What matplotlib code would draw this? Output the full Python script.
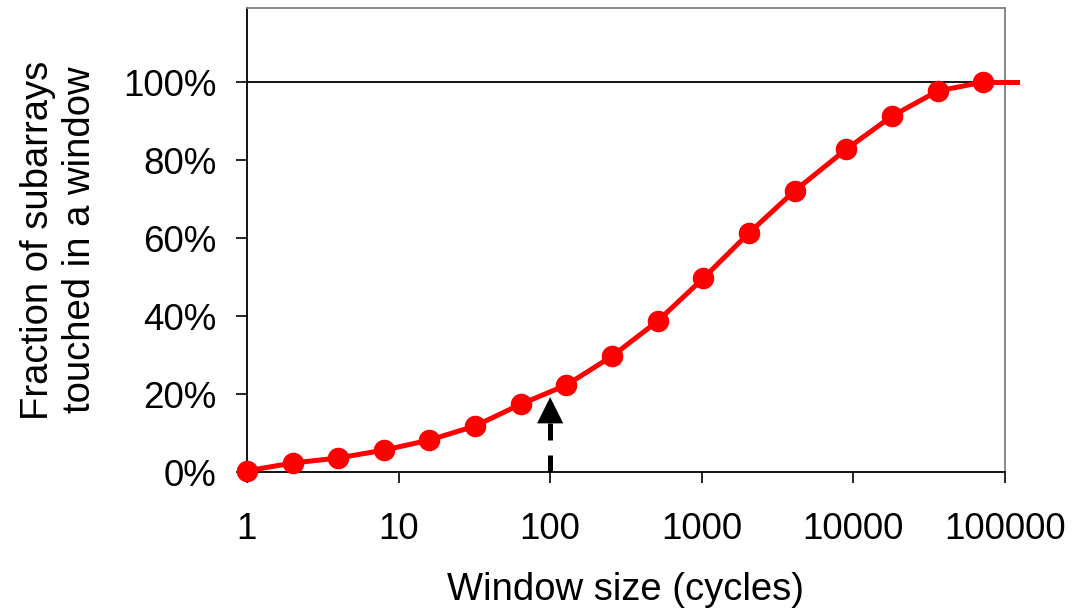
import matplotlib
matplotlib.use("Agg")
import matplotlib.pyplot as plt
from matplotlib.ticker import FixedLocator, NullLocator, FuncFormatter

plt.rcParams['font.family'] = ['Liberation Sans', 'DejaVu Sans']

# data
window_sizes = [1, 2, 4, 8, 16, 32, 64, 128, 256, 512, 1024, 2048, 4096,
                9000, 18000, 36000, 72000]
fraction_touched = [0.003, 0.023, 0.036, 0.056, 0.082, 0.118, 0.174, 0.223,
                    0.297, 0.387, 0.497, 0.613, 0.721, 0.828, 0.913, 0.977, 1.0]
tail_x = [72000, 120000]   # line runs a little past the right edge
tail_y = [1.0, 1.0]
x_ticks = [1, 10, 100, 1000, 10000, 100000]
y_ticks = [0, 0.2, 0.4, 0.6, 0.8, 1.0]
arrow_x = 100
arrow_base, arrow_tip = 0.125, 0.192

fig = plt.figure(figsize=(10.83, 6.13), dpi=100)
ax = fig.add_axes([0.228, 0.23, 0.700, 0.757])

ax.set_xscale('log')
ax.set_xlim(1, 100000)
ax.set_ylim(0, 1.19)

ax.axhline(1.0, color='black', linewidth=1.3, zorder=1)

ax.plot(window_sizes, fraction_touched, color='#ff0000', linewidth=3.6,
        marker='o', markersize=14.5, clip_on=False, zorder=3)
ax.plot(tail_x, tail_y, color='#ff0000', linewidth=3.6, clip_on=False, zorder=3)

# dashed arrow at window = 100
ax.plot([arrow_x, arrow_x], [arrow_base, 0], color='black',
        linewidth=3.6, linestyle=(0, (3.4, 3.0)), solid_capstyle='butt',
        dash_capstyle='butt', zorder=2)
ax.annotate('', xy=(arrow_x, arrow_tip), xytext=(arrow_x, arrow_base),
            arrowprops=dict(arrowstyle='-|>,head_length=1.0,head_width=0.5',
                            mutation_scale=18.7, color='black', linewidth=0.1,
                            shrinkA=0, shrinkB=0),
            zorder=2)

ax.xaxis.set_major_locator(FixedLocator(x_ticks))
ax.xaxis.set_minor_locator(NullLocator())
ax.xaxis.set_major_formatter(FuncFormatter(lambda v, p: f'{int(round(v))}'))
ax.yaxis.set_major_locator(FixedLocator(y_ticks))
ax.yaxis.set_major_formatter(FuncFormatter(lambda v, p: f'{v * 100:.0f}%'))

ax.tick_params(axis='both', direction='out', length=8, width=1.2,
               labelsize=26.5, colors='black')
ax.tick_params(axis='x', pad=21)
ax.tick_params(axis='y', pad=14)

for side in ['left', 'bottom']:
    ax.spines[side].set_color('black')
    ax.spines[side].set_linewidth(1.3)
for side in ['top', 'right']:
    ax.spines[side].set_color('#808080')
    ax.spines[side].set_linewidth(1.3)

ax.set_xlabel('Window size (cycles)', fontsize=27.5, labelpad=18)
ax.set_ylabel('Fraction of subarrays\ntouched in a window', fontsize=27.5,
              labelpad=18, linespacing=1.2)

fig.savefig('out.png', dpi=100)
